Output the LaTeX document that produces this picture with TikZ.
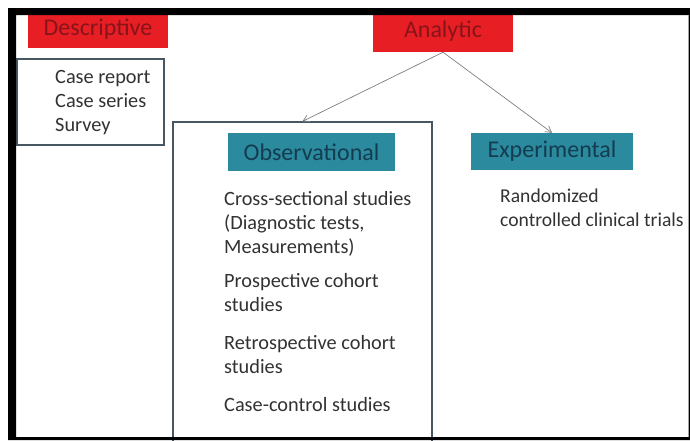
\documentclass[tikz,border=0pt]{standalone}
\usepackage{fontspec}
\setmainfont{Carlito}
\usetikzlibrary{arrows.meta,positioning}
\definecolor{BoxRed}{RGB}{232,30,37}
\definecolor{LabelRed}{RGB}{135,20,26}
\definecolor{Teal}{RGB}{43,138,158}
\definecolor{DarkTeal}{RGB}{20,60,80}
\definecolor{Slate}{RGB}{72,88,98}
\definecolor{BodyGray}{RGB}{50,50,50}
\tikzset{
	redhead/.style={fill=BoxRed, text=LabelRed, inner sep=0pt,
		font=\fontsize{24}{26}\selectfont},
	tealhead/.style={fill=Teal, text=DarkTeal, inner sep=0pt,
		font=\fontsize{24}{26}\selectfont},
	framebox/.style={draw=Slate, line width=1.3pt, inner sep=0pt},
	item/.style={text=BodyGray, align=left, inner sep=0pt, anchor=north west,
		font=\fontsize{20.3}{24}\selectfont},
	link/.style={draw=gray, line width=0.7pt, -{Straight Barb[length=6pt,width=7pt]}}
}

\begin{document}
\begin{tikzpicture}[x=1pt, y=-1pt]
	\fill[white] (0,0) rectangle (690,440);
	\useasboundingbox (0,0) rectangle (690,440);
	% headings
	\node[redhead, minimum width=140pt, minimum height=38pt] (desc) at (98,29) {Descriptive};
	\node[redhead, minimum width=140pt, minimum height=42pt] (analytic) at (443,31) {Analytic};
	% boxes round the lists
	\node[framebox, minimum width=147pt, minimum height=86pt] (descBox) at (90.5,102) {};
	\node[framebox, minimum width=259pt, minimum height=324pt] (obsBox) at (302.5,284) {};
	\node[tealhead, minimum width=167pt, minimum height=38pt] (obs) at (311.5,152) {Observational};
	\node[tealhead, minimum width=162pt, minimum height=37pt] (exp) at (552,151.5) {Experimental};
	% lists
	\node[item] (descList) at (55,70) {Case report\\Case series\\Survey};
	\node[item] (cross) at (224,191) {Cross-sectional studies\\(Diagnostic tests,\\Measurements)};
	\node[item] (prosp) at (224,273) {Prospective cohort\\studies};
	\node[item] (retro) at (224,335) {Retrospective cohort\\studies};
	\node[item] (casectl) at (224,397) {Case-control studies};
	\node[item, font=\fontsize{19.6}{24}\selectfont] (expList) at (500,189) {Randomized\\controlled clinical trials};
	% connectors
	\draw[link] (analytic.south) -- (obsBox.north);
	\draw[link] (analytic.south) -- (exp.north);
	% outer frame
	\fill[black, even odd rule] (8,8) rectangle (690,440) (16,15) rectangle (688,437);
	\draw[gray!70, line width=1pt] (688.5,15) -- (688.5,437);
\end{tikzpicture}
\end{document}
